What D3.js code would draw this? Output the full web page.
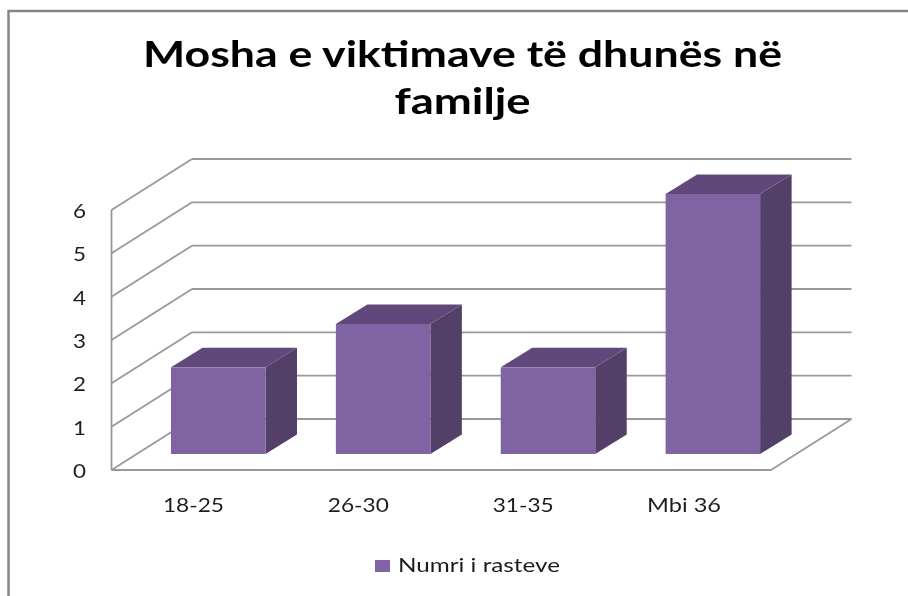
<!DOCTYPE html>
<html><head><meta charset="utf-8">
<script src="https://cdn.jsdelivr.net/npm/d3@7"></script>
<style>html,body{margin:0;background:#fff}svg{display:block}text{font-family:Lato,"Open Sans",sans-serif}</style>
</head><body><div id="c"></div>
<script>
const categories = ["18-25","26-30","31-35","Mbi 36"];
const seriesName = "Numri i rasteve";
const values = [2,3,2,6];
const yTicks = [0,1,2,3,4,5,6];
const titleLines = ["Mosha e viktimave të dhunës në","familje"];

const svg = d3.select("#c").append("svg").attr("width",908).attr("height",596);
const defs = svg.append("defs");
defs.append("filter").attr("id","soft").append("feGaussianBlur").attr("stdDeviation",0.5);
const root = svg.append("g").attr("filter","url(#soft)");

const x0=111.5, x1=771, yBase=470, yTop=210, depthX=80.5, depthY=51;
const x = d3.scaleBand().domain(categories).range([x0,x1]);
const y = d3.scaleLinear().domain([0,6]).range([yBase,yTop]);
const barW=94.5, barDx=24.3, barDy=16, barDepthX=31.5, barDepthY=19.5;

root.append("rect").attr("x",8.5).attr("y",11).attr("width",910).attr("height",600)
  .attr("fill","none").attr("stroke","#858585").attr("stroke-width",2.5);

const grid="#999999";
const g = root.append("g").attr("stroke",grid).attr("stroke-width",1.8).attr("fill","none");
g.selectAll(".w").data(yTicks).join("line")
  .attr("x1",x0).attr("y1",d=>y(d)).attr("x2",x0+depthX).attr("y2",d=>y(d)-depthY);
g.selectAll(".b").data(yTicks).join("line")
  .attr("x1",x0+depthX).attr("y1",d=>y(d)-depthY).attr("x2",x1+depthX).attr("y2",d=>y(d)-depthY);
g.append("line").attr("x1",x0).attr("y1",yBase).attr("x2",x1).attr("y2",yBase);
g.append("line").attr("x1",x1).attr("y1",yBase).attr("x2",x1+depthX).attr("y2",yBase-depthY);
g.append("line").attr("x1",x0).attr("y1",yTop).attr("x2",x0).attr("y2",yBase);

const bars = root.append("g").selectAll("g").data(categories.map((c,i)=>({c,v:values[i]}))).join("g");
const L=d=>x(d.c)+x.bandwidth()/2+barDx-barW/2, R=d=>L(d)+barW, T=d=>y(d.v)-barDy, B=()=>yBase-barDy;
const pts=a=>a.map(p=>p.join(",")).join(" ");
bars.append("polygon").attr("fill","#523f69").attr("points",d=>pts([[R(d),T(d)],[R(d)+barDepthX,T(d)-barDepthY],[R(d)+barDepthX,B()-barDepthY],[R(d),B()]]));
bars.append("polygon").attr("fill","#614a7a").attr("points",d=>pts([[L(d),T(d)],[L(d)+barDepthX,T(d)-barDepthY],[R(d)+barDepthX,T(d)-barDepthY],[R(d),T(d)]]));
bars.append("rect").attr("fill","#8064a2").attr("x",L).attr("y",T).attr("width",barW).attr("height",d=>B()-T(d));

const ink="#1f1f1f";
root.append("g").selectAll("text").data(yTicks).join("text")
  .attr("x",79.5).attr("y",d=>y(d)+8).attr("text-anchor","middle").attr("font-size",20).attr("fill",ink)
  .attr("textLength",13).attr("lengthAdjust","spacingAndGlyphs").text(d=>d);
root.append("g").selectAll("text").data(categories).join("text")
  .attr("x",d=>x(d)+x.bandwidth()/2-(d.length>5?4.5:0.5)).attr("y",512).attr("text-anchor","middle").attr("font-size",19).attr("fill",ink)
  .attr("textLength",d=>d.length>5?74:61).attr("lengthAdjust","spacingAndGlyphs").text(d=>d);

root.append("g").selectAll("text").data(titleLines).join("text")
  .attr("x",462.5).attr("y",(d,i)=>67+i*47).attr("text-anchor","middle").attr("font-size",37).attr("font-weight",700).attr("fill","#000")
  .attr("textLength",(d,i)=>i?136:639).attr("lengthAdjust","spacingAndGlyphs").text(d=>d);

root.append("rect").attr("x",375).attr("y",560).attr("width",15).attr("height",12).attr("fill","#8064a2");
root.append("text").attr("x",398).attr("y",572).attr("font-size",20).attr("fill",ink)
  .attr("textLength",162).attr("lengthAdjust","spacingAndGlyphs").text(seriesName);
</script></body></html>
